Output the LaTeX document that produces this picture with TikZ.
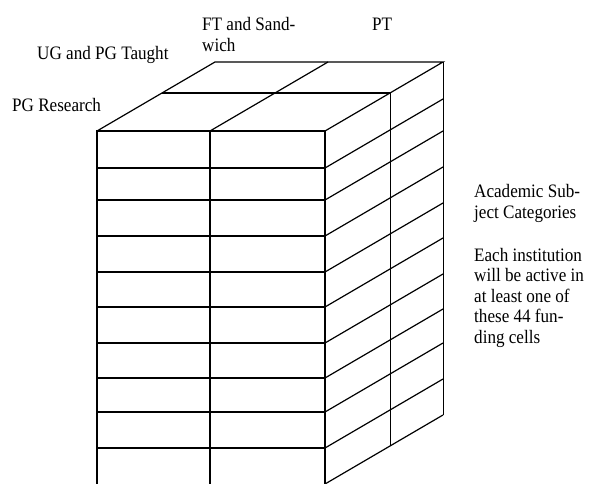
\documentclass[tikz,border=0pt]{standalone}
\usepackage{fontspec}
\setmainfont[FakeStretch=0.9]{Liberation Serif}
\begin{document}
\begin{tikzpicture}[x=1bp,y=-1bp,
  frontline/.style={line width=1.6bp, line cap=rect},
  sideline/.style={line width=1.2bp},
  thinline/.style={line width=0.8bp},
  lbl/.style={anchor=base west, inner sep=0pt,
    font=\fontsize{19bp}{20.5bp}\selectfont}]
\useasboundingbox (0,0) rectangle (592,484);
\clip (0,0) rectangle (592,484);
% corners
\coordinate (FTL) at (97,131);
\coordinate (FTM) at (210,131);
\coordinate (FTR) at (325,131);
\coordinate (BTL) at (215,62);
\coordinate (BTM) at (328,62);
\coordinate (BTR) at (443,62);
\coordinate (MDL) at (162,93);
\coordinate (MDR) at (390,93);
\coordinate (FBL) at (97,492);
\coordinate (FBM) at (210,492);
\coordinate (FBR) at (325,492);
\coordinate (SBF) at (325,484);
\coordinate (SBB) at (443,415);
\coordinate (SBM) at (390,446);
% top face
\draw[sideline] (FTL) -- (BTL) -- (BTR) -- (FTR);
\draw[sideline] (FTM) -- (BTM);
\draw[sideline] (MDL) -- (MDR);
% side face
\draw[thinline] (BTR) -- (SBB);
\draw[thinline] (MDR) -- (SBM);
\draw[sideline] (SBF) -- (SBB);
\foreach \y in {168,200,236,272,307,343,378,412,448}
  \draw[sideline] (325,\y) -- ++(118,-69);
% front face
\foreach \y in {168,200,236,272,307,343,378,412,448}
  \draw[frontline] (97,\y) -- (325,\y);
\draw[frontline] (FTL) -- (FTR);
\draw[frontline] (FTL) -- (FBL);
\draw[frontline] (FTM) -- (FBM);
\draw[frontline] (FTR) -- (FBR);
% labels
\node[lbl] (pgr) at (12,112) {PG Research};
\node[lbl] (ugt) at (37,60) {UG and PG Taught};
\node[lbl] (ft) at (202,31) {\begin{tabular}[t]{@{}l@{}}FT and Sand-\\wich\end{tabular}};
\node[lbl] (pt) at (372,31) {PT};
\node[lbl] (asc) at (474,198) {\begin{tabular}[t]{@{}l@{}}Academic Sub-\\ject Categories\end{tabular}};
\node[lbl] (each) at (474,261) {\begin{tabular}[t]{@{}l@{}}Each institution\\will be active in\\at least one of\\these 44 fun-\\ding cells\end{tabular}};
\end{tikzpicture}
\end{document}
